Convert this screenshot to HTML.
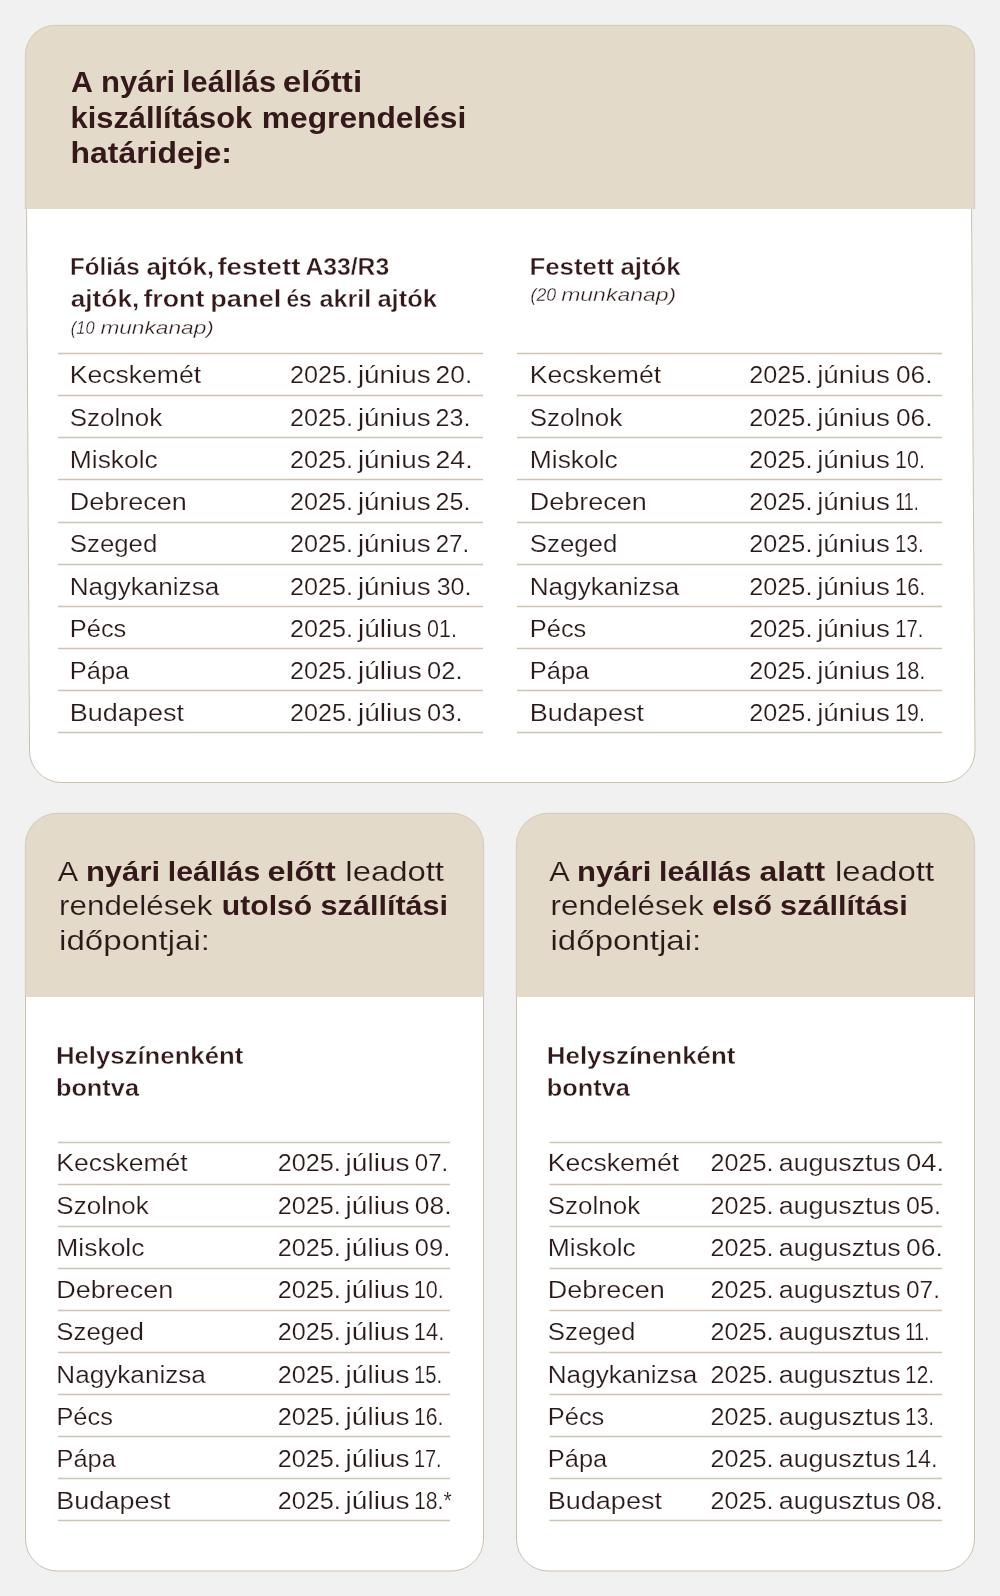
<!DOCTYPE html>
<html lang="hu"><head><meta charset="utf-8"><title>Nyári leállás</title>
<style>
html,body{margin:0;padding:0;background:#f1f1f2;}
body{width:1000px;height:1596px;overflow:hidden;font-family:"Liberation Sans",sans-serif;}
svg{display:block;will-change:transform;}
</style></head><body>
<svg width="1000" height="1596" viewBox="0 0 1000 1596">
<g>
<!-- top card body -->
<path d="M26.5 200 L29.5 750.5 A32 32 0 0 0 61.5 782.5 L943 782.5 A32 32 0 0 0 975 750.5 L971.5 200 Z" fill="#ffffff" stroke="#cbbfae" stroke-width="1"/>
<!-- top card header -->
<path d="M25 209 V55 A30 30 0 0 1 55 25 H945 A30 30 0 0 1 975 55 V209 Z" fill="#e3daca"/><path d="M25.3 209 V55 A30 30 0 0 1 55 25.3 H945 A30 30 0 0 1 974.7 55 V209" fill="none" stroke="#cbbfae" stroke-width="0.6"/>
<!-- bottom cards -->
<path d="M25.5 990 V1539 A32 32 0 0 0 57.5 1571 H451.5 A32 32 0 0 0 483.5 1539 V990 Z" fill="#ffffff" stroke="#cbbfae" stroke-width="1"/>
<path d="M25 997 V845 A32 32 0 0 1 57 813 H452 A32 32 0 0 1 484 845 V997 Z" fill="#e3daca"/><path d="M25.3 997 V845 A32 32 0 0 1 57 813.3 H452 A32 32 0 0 1 483.7 845 V997" fill="none" stroke="#cbbfae" stroke-width="0.6"/>
<path d="M516.5 990 V1539 A32 32 0 0 0 548.5 1571 H942.5 A32 32 0 0 0 974.5 1539 V990 Z" fill="#ffffff" stroke="#cbbfae" stroke-width="1"/>
<path d="M516 997 V845 A32 32 0 0 1 548 813 H943 A32 32 0 0 1 975 845 V997 Z" fill="#e3daca"/><path d="M516.3 997 V845 A32 32 0 0 1 548 813.3 H943 A32 32 0 0 1 974.7 845 V997" fill="none" stroke="#cbbfae" stroke-width="0.6"/>
<path d="M58 353.5H483M58 395.5H483M58 437.5H483M58 479.5H483M58 522.5H483M58 564.5H483M58 606.5H483M58 648.5H483M58 690.5H483M58 732.5H483M517 353.5H942M517 395.5H942M517 437.5H942M517 479.5H942M517 522.5H942M517 564.5H942M517 606.5H942M517 648.5H942M517 690.5H942M517 732.5H942M58 1142.5H450M58 1184.5H450M58 1226.5H450M58 1268.5H450M58 1310.5H450M58 1352.5H450M58 1394.5H450M58 1436.5H450M58 1478.5H450M58 1520.5H450M549.5 1142.5H942M549.5 1184.5H942M549.5 1226.5H942M549.5 1268.5H942M549.5 1310.5H942M549.5 1352.5H942M549.5 1394.5H942M549.5 1436.5H942M549.5 1478.5H942M549.5 1520.5H942" stroke="#cdc4b3" stroke-width="1.7" fill="none"/>
</g>
<g font-family="Liberation Sans" fill="#34181a">
<text x="71.00" y="92.00" font-size="29" textLength="21.94" lengthAdjust="spacingAndGlyphs" font-weight="bold">A</text>
<text x="101.13" y="92.00" font-size="29" textLength="74.12" lengthAdjust="spacingAndGlyphs" font-weight="bold">nyári</text>
<text x="182.08" y="92.00" font-size="29" textLength="93.91" lengthAdjust="spacingAndGlyphs" font-weight="bold">leállás</text>
<text x="282.80" y="92.00" font-size="29" textLength="79.35" lengthAdjust="spacingAndGlyphs" font-weight="bold">előtti</text>
<text x="70.58" y="128.00" font-size="29" textLength="181.55" lengthAdjust="spacingAndGlyphs" font-weight="bold">kiszállítások</text>
<text x="261.86" y="128.00" font-size="29" textLength="204.44" lengthAdjust="spacingAndGlyphs" font-weight="bold">megrendelési</text>
<text x="70.50" y="163.00" font-size="29" textLength="161.48" lengthAdjust="spacingAndGlyphs" font-weight="bold">határideje:</text>
<text x="69.97" y="274.80" font-size="23.5" textLength="69.70" lengthAdjust="spacingAndGlyphs" font-weight="bold" stroke="#ffffff" stroke-width="0.35">Fóliás</text>
<text x="146.40" y="274.80" font-size="23.5" textLength="67.89" lengthAdjust="spacingAndGlyphs" font-weight="bold" stroke="#ffffff" stroke-width="0.35">ajtók,</text>
<text x="217.40" y="274.80" font-size="23.5" textLength="82.99" lengthAdjust="spacingAndGlyphs" font-weight="bold" stroke="#ffffff" stroke-width="0.35">festett</text>
<text x="305.40" y="274.80" font-size="23.5" textLength="83.77" lengthAdjust="spacingAndGlyphs" font-weight="bold" stroke="#ffffff" stroke-width="0.35">A33/R3</text>
<text x="70.70" y="306.50" font-size="23.5" textLength="68.61" lengthAdjust="spacingAndGlyphs" font-weight="bold" stroke="#ffffff" stroke-width="0.35">ajtók,</text>
<text x="143.40" y="306.50" font-size="23.5" textLength="61.00" lengthAdjust="spacingAndGlyphs" font-weight="bold" stroke="#ffffff" stroke-width="0.35">front</text>
<text x="210.24" y="306.50" font-size="23.5" textLength="71.13" lengthAdjust="spacingAndGlyphs" font-weight="bold" stroke="#ffffff" stroke-width="0.35">panel</text>
<text x="286.40" y="306.50" font-size="23.5" textLength="25.27" lengthAdjust="spacingAndGlyphs" font-weight="bold" stroke="#ffffff" stroke-width="0.35">és</text>
<text x="319.40" y="306.50" font-size="23.5" textLength="51.84" lengthAdjust="spacingAndGlyphs" font-weight="bold" stroke="#ffffff" stroke-width="0.35">akril</text>
<text x="377.40" y="306.50" font-size="23.5" textLength="59.69" lengthAdjust="spacingAndGlyphs" font-weight="bold" stroke="#ffffff" stroke-width="0.35">ajtók</text>
<text x="70.80" y="334.30" font-size="18.5" textLength="23.77" lengthAdjust="spacingAndGlyphs" font-style="italic" fill="#2b1919" stroke="#ffffff" stroke-width="0.3">(10</text>
<text x="100.40" y="334.30" font-size="18.5" textLength="113.40" lengthAdjust="spacingAndGlyphs" font-style="italic" fill="#2b1919" stroke="#ffffff" stroke-width="0.3">munkanap)</text>
<text x="529.40" y="275.20" font-size="23.5" textLength="84.81" lengthAdjust="spacingAndGlyphs" font-weight="bold" stroke="#ffffff" stroke-width="0.35">Festett</text>
<text x="620.40" y="275.20" font-size="23.5" textLength="60.18" lengthAdjust="spacingAndGlyphs" font-weight="bold" stroke="#ffffff" stroke-width="0.35">ajtók</text>
<text x="530.50" y="301.30" font-size="18.5" textLength="25.62" lengthAdjust="spacingAndGlyphs" font-style="italic" fill="#2b1919" stroke="#ffffff" stroke-width="0.3">(20</text>
<text x="561.20" y="301.30" font-size="18.5" textLength="115.00" lengthAdjust="spacingAndGlyphs" font-style="italic" fill="#2b1919" stroke="#ffffff" stroke-width="0.3">munkanap)</text>
<text x="69.76" y="383.40" font-size="23.3" textLength="131.34" lengthAdjust="spacingAndGlyphs" fill="#2b1919" stroke="#ffffff" stroke-width="0.2">Kecskemét</text>
<text x="290.02" y="383.40" font-size="23.3" textLength="63.08" lengthAdjust="spacingAndGlyphs" fill="#2b1919" stroke="#ffffff" stroke-width="0.2">2025.</text>
<text x="357.90" y="383.40" font-size="23.3" textLength="72.78" lengthAdjust="spacingAndGlyphs" fill="#2b1919" stroke="#ffffff" stroke-width="0.2">június</text>
<text x="435.57" y="383.40" font-size="23.3" textLength="36.70" lengthAdjust="spacingAndGlyphs" fill="#2b1919" stroke="#ffffff" stroke-width="0.2">20.</text>
<text x="69.78" y="425.64" font-size="23.3" textLength="92.42" lengthAdjust="spacingAndGlyphs" fill="#2b1919" stroke="#ffffff" stroke-width="0.2">Szolnok</text>
<text x="290.02" y="425.64" font-size="23.3" textLength="63.08" lengthAdjust="spacingAndGlyphs" fill="#2b1919" stroke="#ffffff" stroke-width="0.2">2025.</text>
<text x="357.90" y="425.64" font-size="23.3" textLength="72.78" lengthAdjust="spacingAndGlyphs" fill="#2b1919" stroke="#ffffff" stroke-width="0.2">június</text>
<text x="435.62" y="425.64" font-size="23.3" textLength="34.86" lengthAdjust="spacingAndGlyphs" fill="#2b1919" stroke="#ffffff" stroke-width="0.2">23.</text>
<text x="69.77" y="467.88" font-size="23.3" textLength="88.04" lengthAdjust="spacingAndGlyphs" fill="#2b1919" stroke="#ffffff" stroke-width="0.2">Miskolc</text>
<text x="290.02" y="467.88" font-size="23.3" textLength="63.08" lengthAdjust="spacingAndGlyphs" fill="#2b1919" stroke="#ffffff" stroke-width="0.2">2025.</text>
<text x="357.90" y="467.88" font-size="23.3" textLength="72.78" lengthAdjust="spacingAndGlyphs" fill="#2b1919" stroke="#ffffff" stroke-width="0.2">június</text>
<text x="435.56" y="467.88" font-size="23.3" textLength="37.03" lengthAdjust="spacingAndGlyphs" fill="#2b1919" stroke="#ffffff" stroke-width="0.2">24.</text>
<text x="69.74" y="510.12" font-size="23.3" textLength="116.97" lengthAdjust="spacingAndGlyphs" fill="#2b1919" stroke="#ffffff" stroke-width="0.2">Debrecen</text>
<text x="290.02" y="510.12" font-size="23.3" textLength="63.08" lengthAdjust="spacingAndGlyphs" fill="#2b1919" stroke="#ffffff" stroke-width="0.2">2025.</text>
<text x="357.90" y="510.12" font-size="23.3" textLength="72.78" lengthAdjust="spacingAndGlyphs" fill="#2b1919" stroke="#ffffff" stroke-width="0.2">június</text>
<text x="435.62" y="510.12" font-size="23.3" textLength="34.86" lengthAdjust="spacingAndGlyphs" fill="#2b1919" stroke="#ffffff" stroke-width="0.2">25.</text>
<text x="69.79" y="552.36" font-size="23.3" textLength="87.47" lengthAdjust="spacingAndGlyphs" fill="#2b1919" stroke="#ffffff" stroke-width="0.2">Szeged</text>
<text x="290.02" y="552.36" font-size="23.3" textLength="63.08" lengthAdjust="spacingAndGlyphs" fill="#2b1919" stroke="#ffffff" stroke-width="0.2">2025.</text>
<text x="357.90" y="552.36" font-size="23.3" textLength="72.78" lengthAdjust="spacingAndGlyphs" fill="#2b1919" stroke="#ffffff" stroke-width="0.2">június</text>
<text x="435.67" y="552.36" font-size="23.3" textLength="33.45" lengthAdjust="spacingAndGlyphs" fill="#2b1919" stroke="#ffffff" stroke-width="0.2">27.</text>
<text x="69.78" y="594.60" font-size="23.3" textLength="149.47" lengthAdjust="spacingAndGlyphs" fill="#2b1919" stroke="#ffffff" stroke-width="0.2">Nagykanizsa</text>
<text x="290.02" y="594.60" font-size="23.3" textLength="63.08" lengthAdjust="spacingAndGlyphs" fill="#2b1919" stroke="#ffffff" stroke-width="0.2">2025.</text>
<text x="357.90" y="594.60" font-size="23.3" textLength="72.78" lengthAdjust="spacingAndGlyphs" fill="#2b1919" stroke="#ffffff" stroke-width="0.2">június</text>
<text x="436.70" y="594.60" font-size="23.3" textLength="34.78" lengthAdjust="spacingAndGlyphs" fill="#2b1919" stroke="#ffffff" stroke-width="0.2">30.</text>
<text x="69.81" y="636.84" font-size="23.3" textLength="56.50" lengthAdjust="spacingAndGlyphs" fill="#2b1919" stroke="#ffffff" stroke-width="0.2">Pécs</text>
<text x="290.02" y="636.84" font-size="23.3" textLength="63.08" lengthAdjust="spacingAndGlyphs" fill="#2b1919" stroke="#ffffff" stroke-width="0.2">2025.</text>
<text x="357.91" y="636.84" font-size="23.3" textLength="63.98" lengthAdjust="spacingAndGlyphs" fill="#2b1919" stroke="#ffffff" stroke-width="0.2">július</text>
<text x="427.10" y="636.84" font-size="23.3" textLength="29.86" lengthAdjust="spacingAndGlyphs" fill="#2b1919" stroke="#ffffff" stroke-width="0.2">01.</text>
<text x="69.81" y="679.08" font-size="23.3" textLength="59.45" lengthAdjust="spacingAndGlyphs" fill="#2b1919" stroke="#ffffff" stroke-width="0.2">Pápa</text>
<text x="290.02" y="679.08" font-size="23.3" textLength="63.08" lengthAdjust="spacingAndGlyphs" fill="#2b1919" stroke="#ffffff" stroke-width="0.2">2025.</text>
<text x="357.91" y="679.08" font-size="23.3" textLength="63.98" lengthAdjust="spacingAndGlyphs" fill="#2b1919" stroke="#ffffff" stroke-width="0.2">július</text>
<text x="427.10" y="679.08" font-size="23.3" textLength="35.41" lengthAdjust="spacingAndGlyphs" fill="#2b1919" stroke="#ffffff" stroke-width="0.2">02.</text>
<text x="69.74" y="721.32" font-size="23.3" textLength="114.25" lengthAdjust="spacingAndGlyphs" fill="#2b1919" stroke="#ffffff" stroke-width="0.2">Budapest</text>
<text x="290.02" y="721.32" font-size="23.3" textLength="63.08" lengthAdjust="spacingAndGlyphs" fill="#2b1919" stroke="#ffffff" stroke-width="0.2">2025.</text>
<text x="357.91" y="721.32" font-size="23.3" textLength="63.98" lengthAdjust="spacingAndGlyphs" fill="#2b1919" stroke="#ffffff" stroke-width="0.2">július</text>
<text x="427.10" y="721.32" font-size="23.3" textLength="35.41" lengthAdjust="spacingAndGlyphs" fill="#2b1919" stroke="#ffffff" stroke-width="0.2">03.</text>
<text x="529.76" y="383.40" font-size="23.3" textLength="131.34" lengthAdjust="spacingAndGlyphs" fill="#2b1919" stroke="#ffffff" stroke-width="0.2">Kecskemét</text>
<text x="749.32" y="383.40" font-size="23.3" textLength="63.08" lengthAdjust="spacingAndGlyphs" fill="#2b1919" stroke="#ffffff" stroke-width="0.2">2025.</text>
<text x="817.20" y="383.40" font-size="23.3" textLength="72.78" lengthAdjust="spacingAndGlyphs" fill="#2b1919" stroke="#ffffff" stroke-width="0.2">június</text>
<text x="896.00" y="383.40" font-size="23.3" textLength="36.56" lengthAdjust="spacingAndGlyphs" fill="#2b1919" stroke="#ffffff" stroke-width="0.2">06.</text>
<text x="529.78" y="425.64" font-size="23.3" textLength="92.42" lengthAdjust="spacingAndGlyphs" fill="#2b1919" stroke="#ffffff" stroke-width="0.2">Szolnok</text>
<text x="749.32" y="425.64" font-size="23.3" textLength="63.08" lengthAdjust="spacingAndGlyphs" fill="#2b1919" stroke="#ffffff" stroke-width="0.2">2025.</text>
<text x="817.20" y="425.64" font-size="23.3" textLength="72.78" lengthAdjust="spacingAndGlyphs" fill="#2b1919" stroke="#ffffff" stroke-width="0.2">június</text>
<text x="896.00" y="425.64" font-size="23.3" textLength="36.56" lengthAdjust="spacingAndGlyphs" fill="#2b1919" stroke="#ffffff" stroke-width="0.2">06.</text>
<text x="529.77" y="467.88" font-size="23.3" textLength="88.04" lengthAdjust="spacingAndGlyphs" fill="#2b1919" stroke="#ffffff" stroke-width="0.2">Miskolc</text>
<text x="749.32" y="467.88" font-size="23.3" textLength="63.08" lengthAdjust="spacingAndGlyphs" fill="#2b1919" stroke="#ffffff" stroke-width="0.2">2025.</text>
<text x="817.20" y="467.88" font-size="23.3" textLength="72.78" lengthAdjust="spacingAndGlyphs" fill="#2b1919" stroke="#ffffff" stroke-width="0.2">június</text>
<text x="895.08" y="467.88" font-size="23.3" textLength="29.88" lengthAdjust="spacingAndGlyphs" fill="#2b1919" stroke="#ffffff" stroke-width="0.2">10.</text>
<text x="529.74" y="510.12" font-size="23.3" textLength="116.97" lengthAdjust="spacingAndGlyphs" fill="#2b1919" stroke="#ffffff" stroke-width="0.2">Debrecen</text>
<text x="749.32" y="510.12" font-size="23.3" textLength="63.08" lengthAdjust="spacingAndGlyphs" fill="#2b1919" stroke="#ffffff" stroke-width="0.2">2025.</text>
<text x="817.20" y="510.12" font-size="23.3" textLength="72.78" lengthAdjust="spacingAndGlyphs" fill="#2b1919" stroke="#ffffff" stroke-width="0.2">június</text>
<text x="895.23" y="510.12" font-size="23.3" textLength="23.60" lengthAdjust="spacingAndGlyphs" fill="#2b1919" stroke="#ffffff" stroke-width="0.2">11.</text>
<text x="529.79" y="552.36" font-size="23.3" textLength="87.47" lengthAdjust="spacingAndGlyphs" fill="#2b1919" stroke="#ffffff" stroke-width="0.2">Szeged</text>
<text x="749.32" y="552.36" font-size="23.3" textLength="63.08" lengthAdjust="spacingAndGlyphs" fill="#2b1919" stroke="#ffffff" stroke-width="0.2">2025.</text>
<text x="817.20" y="552.36" font-size="23.3" textLength="72.78" lengthAdjust="spacingAndGlyphs" fill="#2b1919" stroke="#ffffff" stroke-width="0.2">június</text>
<text x="895.12" y="552.36" font-size="23.3" textLength="28.47" lengthAdjust="spacingAndGlyphs" fill="#2b1919" stroke="#ffffff" stroke-width="0.2">13.</text>
<text x="529.78" y="594.60" font-size="23.3" textLength="149.47" lengthAdjust="spacingAndGlyphs" fill="#2b1919" stroke="#ffffff" stroke-width="0.2">Nagykanizsa</text>
<text x="749.32" y="594.60" font-size="23.3" textLength="63.08" lengthAdjust="spacingAndGlyphs" fill="#2b1919" stroke="#ffffff" stroke-width="0.2">2025.</text>
<text x="817.20" y="594.60" font-size="23.3" textLength="72.78" lengthAdjust="spacingAndGlyphs" fill="#2b1919" stroke="#ffffff" stroke-width="0.2">június</text>
<text x="895.06" y="594.60" font-size="23.3" textLength="30.31" lengthAdjust="spacingAndGlyphs" fill="#2b1919" stroke="#ffffff" stroke-width="0.2">16.</text>
<text x="529.81" y="636.84" font-size="23.3" textLength="56.50" lengthAdjust="spacingAndGlyphs" fill="#2b1919" stroke="#ffffff" stroke-width="0.2">Pécs</text>
<text x="749.32" y="636.84" font-size="23.3" textLength="63.08" lengthAdjust="spacingAndGlyphs" fill="#2b1919" stroke="#ffffff" stroke-width="0.2">2025.</text>
<text x="817.20" y="636.84" font-size="23.3" textLength="72.78" lengthAdjust="spacingAndGlyphs" fill="#2b1919" stroke="#ffffff" stroke-width="0.2">június</text>
<text x="895.13" y="636.84" font-size="23.3" textLength="28.15" lengthAdjust="spacingAndGlyphs" fill="#2b1919" stroke="#ffffff" stroke-width="0.2">17.</text>
<text x="529.81" y="679.08" font-size="23.3" textLength="59.45" lengthAdjust="spacingAndGlyphs" fill="#2b1919" stroke="#ffffff" stroke-width="0.2">Pápa</text>
<text x="749.32" y="679.08" font-size="23.3" textLength="63.08" lengthAdjust="spacingAndGlyphs" fill="#2b1919" stroke="#ffffff" stroke-width="0.2">2025.</text>
<text x="817.20" y="679.08" font-size="23.3" textLength="72.78" lengthAdjust="spacingAndGlyphs" fill="#2b1919" stroke="#ffffff" stroke-width="0.2">június</text>
<text x="895.06" y="679.08" font-size="23.3" textLength="30.31" lengthAdjust="spacingAndGlyphs" fill="#2b1919" stroke="#ffffff" stroke-width="0.2">18.</text>
<text x="529.74" y="721.32" font-size="23.3" textLength="114.25" lengthAdjust="spacingAndGlyphs" fill="#2b1919" stroke="#ffffff" stroke-width="0.2">Budapest</text>
<text x="749.32" y="721.32" font-size="23.3" textLength="63.08" lengthAdjust="spacingAndGlyphs" fill="#2b1919" stroke="#ffffff" stroke-width="0.2">2025.</text>
<text x="817.20" y="721.32" font-size="23.3" textLength="72.78" lengthAdjust="spacingAndGlyphs" fill="#2b1919" stroke="#ffffff" stroke-width="0.2">június</text>
<text x="895.08" y="721.32" font-size="23.3" textLength="29.77" lengthAdjust="spacingAndGlyphs" fill="#2b1919" stroke="#ffffff" stroke-width="0.2">19.</text>
<text x="57.80" y="880.80" font-size="28.5" textLength="20.41" lengthAdjust="spacingAndGlyphs" fill="#2b1919" stroke="#e3daca" stroke-width="0.15">A</text>
<text x="85.91" y="880.80" font-size="28.5" textLength="74.18" lengthAdjust="spacingAndGlyphs" font-weight="bold">nyári</text>
<text x="167.89" y="880.80" font-size="28.5" textLength="92.31" lengthAdjust="spacingAndGlyphs" font-weight="bold">leállás</text>
<text x="267.57" y="880.80" font-size="28.5" textLength="68.16" lengthAdjust="spacingAndGlyphs" font-weight="bold">előtt</text>
<text x="345.35" y="880.80" font-size="28.5" textLength="98.66" lengthAdjust="spacingAndGlyphs" fill="#2b1919" stroke="#e3daca" stroke-width="0.15">leadott</text>
<text x="59.10" y="915.40" font-size="28.5" textLength="153.38" lengthAdjust="spacingAndGlyphs" fill="#2b1919" stroke="#e3daca" stroke-width="0.15">rendelések</text>
<text x="221.89" y="915.40" font-size="28.5" textLength="90.34" lengthAdjust="spacingAndGlyphs" font-weight="bold">utolsó</text>
<text x="320.63" y="915.40" font-size="28.5" textLength="127.43" lengthAdjust="spacingAndGlyphs" font-weight="bold">szállítási</text>
<text x="59.04" y="950.30" font-size="28.5" textLength="150.99" lengthAdjust="spacingAndGlyphs" fill="#2b1919" stroke="#e3daca" stroke-width="0.15">időpontjai:</text>
<text x="55.90" y="1064.10" font-size="23.5" textLength="187.40" lengthAdjust="spacingAndGlyphs" font-weight="bold" stroke="#ffffff" stroke-width="0.35">Helyszínenként</text>
<text x="55.92" y="1096.00" font-size="23.5" textLength="83.08" lengthAdjust="spacingAndGlyphs" font-weight="bold" stroke="#ffffff" stroke-width="0.35">bontva</text>
<text x="549.30" y="880.80" font-size="28.5" textLength="20.41" lengthAdjust="spacingAndGlyphs" fill="#2b1919" stroke="#e3daca" stroke-width="0.15">A</text>
<text x="577.11" y="880.80" font-size="28.5" textLength="74.18" lengthAdjust="spacingAndGlyphs" font-weight="bold">nyári</text>
<text x="659.09" y="880.80" font-size="28.5" textLength="92.31" lengthAdjust="spacingAndGlyphs" font-weight="bold">leállás</text>
<text x="759.50" y="880.80" font-size="28.5" textLength="65.63" lengthAdjust="spacingAndGlyphs" font-weight="bold">alatt</text>
<text x="835.04" y="880.80" font-size="28.5" textLength="99.06" lengthAdjust="spacingAndGlyphs" fill="#2b1919" stroke="#e3daca" stroke-width="0.15">leadott</text>
<text x="550.60" y="915.40" font-size="28.5" textLength="153.07" lengthAdjust="spacingAndGlyphs" fill="#2b1919" stroke="#e3daca" stroke-width="0.15">rendelések</text>
<text x="712.15" y="915.40" font-size="28.5" textLength="59.78" lengthAdjust="spacingAndGlyphs" font-weight="bold">első</text>
<text x="780.12" y="915.40" font-size="28.5" textLength="127.74" lengthAdjust="spacingAndGlyphs" font-weight="bold">szállítási</text>
<text x="550.54" y="950.30" font-size="28.5" textLength="150.68" lengthAdjust="spacingAndGlyphs" fill="#2b1919" stroke="#e3daca" stroke-width="0.15">időpontjai:</text>
<text x="546.80" y="1064.10" font-size="23.5" textLength="188.61" lengthAdjust="spacingAndGlyphs" font-weight="bold" stroke="#ffffff" stroke-width="0.35">Helyszínenként</text>
<text x="546.82" y="1096.00" font-size="23.5" textLength="83.08" lengthAdjust="spacingAndGlyphs" font-weight="bold" stroke="#ffffff" stroke-width="0.35">bontva</text>
<text x="56.36" y="1171.30" font-size="23.3" textLength="131.34" lengthAdjust="spacingAndGlyphs" fill="#2b1919" stroke="#ffffff" stroke-width="0.2">Kecskemét</text>
<text x="277.72" y="1171.30" font-size="23.3" textLength="63.08" lengthAdjust="spacingAndGlyphs" fill="#2b1919" stroke="#ffffff" stroke-width="0.2">2025.</text>
<text x="345.61" y="1171.30" font-size="23.3" textLength="63.98" lengthAdjust="spacingAndGlyphs" fill="#2b1919" stroke="#ffffff" stroke-width="0.2">július</text>
<text x="414.80" y="1171.30" font-size="23.3" textLength="33.42" lengthAdjust="spacingAndGlyphs" fill="#2b1919" stroke="#ffffff" stroke-width="0.2">07.</text>
<text x="56.38" y="1213.54" font-size="23.3" textLength="92.42" lengthAdjust="spacingAndGlyphs" fill="#2b1919" stroke="#ffffff" stroke-width="0.2">Szolnok</text>
<text x="277.72" y="1213.54" font-size="23.3" textLength="63.08" lengthAdjust="spacingAndGlyphs" fill="#2b1919" stroke="#ffffff" stroke-width="0.2">2025.</text>
<text x="345.61" y="1213.54" font-size="23.3" textLength="63.98" lengthAdjust="spacingAndGlyphs" fill="#2b1919" stroke="#ffffff" stroke-width="0.2">július</text>
<text x="414.80" y="1213.54" font-size="23.3" textLength="36.77" lengthAdjust="spacingAndGlyphs" fill="#2b1919" stroke="#ffffff" stroke-width="0.2">08.</text>
<text x="56.37" y="1255.78" font-size="23.3" textLength="88.04" lengthAdjust="spacingAndGlyphs" fill="#2b1919" stroke="#ffffff" stroke-width="0.2">Miskolc</text>
<text x="277.72" y="1255.78" font-size="23.3" textLength="63.08" lengthAdjust="spacingAndGlyphs" fill="#2b1919" stroke="#ffffff" stroke-width="0.2">2025.</text>
<text x="345.61" y="1255.78" font-size="23.3" textLength="63.98" lengthAdjust="spacingAndGlyphs" fill="#2b1919" stroke="#ffffff" stroke-width="0.2">július</text>
<text x="414.80" y="1255.78" font-size="23.3" textLength="35.51" lengthAdjust="spacingAndGlyphs" fill="#2b1919" stroke="#ffffff" stroke-width="0.2">09.</text>
<text x="56.34" y="1298.02" font-size="23.3" textLength="116.97" lengthAdjust="spacingAndGlyphs" fill="#2b1919" stroke="#ffffff" stroke-width="0.2">Debrecen</text>
<text x="277.72" y="1298.02" font-size="23.3" textLength="63.08" lengthAdjust="spacingAndGlyphs" fill="#2b1919" stroke="#ffffff" stroke-width="0.2">2025.</text>
<text x="345.61" y="1298.02" font-size="23.3" textLength="63.98" lengthAdjust="spacingAndGlyphs" fill="#2b1919" stroke="#ffffff" stroke-width="0.2">július</text>
<text x="413.87" y="1298.02" font-size="23.3" textLength="29.99" lengthAdjust="spacingAndGlyphs" fill="#2b1919" stroke="#ffffff" stroke-width="0.2">10.</text>
<text x="56.39" y="1340.26" font-size="23.3" textLength="87.47" lengthAdjust="spacingAndGlyphs" fill="#2b1919" stroke="#ffffff" stroke-width="0.2">Szeged</text>
<text x="277.72" y="1340.26" font-size="23.3" textLength="63.08" lengthAdjust="spacingAndGlyphs" fill="#2b1919" stroke="#ffffff" stroke-width="0.2">2025.</text>
<text x="345.61" y="1340.26" font-size="23.3" textLength="63.98" lengthAdjust="spacingAndGlyphs" fill="#2b1919" stroke="#ffffff" stroke-width="0.2">július</text>
<text x="413.86" y="1340.26" font-size="23.3" textLength="30.53" lengthAdjust="spacingAndGlyphs" fill="#2b1919" stroke="#ffffff" stroke-width="0.2">14.</text>
<text x="56.38" y="1382.50" font-size="23.3" textLength="149.47" lengthAdjust="spacingAndGlyphs" fill="#2b1919" stroke="#ffffff" stroke-width="0.2">Nagykanizsa</text>
<text x="277.72" y="1382.50" font-size="23.3" textLength="63.08" lengthAdjust="spacingAndGlyphs" fill="#2b1919" stroke="#ffffff" stroke-width="0.2">2025.</text>
<text x="345.61" y="1382.50" font-size="23.3" textLength="63.98" lengthAdjust="spacingAndGlyphs" fill="#2b1919" stroke="#ffffff" stroke-width="0.2">július</text>
<text x="413.93" y="1382.50" font-size="23.3" textLength="28.15" lengthAdjust="spacingAndGlyphs" fill="#2b1919" stroke="#ffffff" stroke-width="0.2">15.</text>
<text x="56.41" y="1424.74" font-size="23.3" textLength="56.50" lengthAdjust="spacingAndGlyphs" fill="#2b1919" stroke="#ffffff" stroke-width="0.2">Pécs</text>
<text x="277.72" y="1424.74" font-size="23.3" textLength="63.08" lengthAdjust="spacingAndGlyphs" fill="#2b1919" stroke="#ffffff" stroke-width="0.2">2025.</text>
<text x="345.61" y="1424.74" font-size="23.3" textLength="63.98" lengthAdjust="spacingAndGlyphs" fill="#2b1919" stroke="#ffffff" stroke-width="0.2">július</text>
<text x="413.89" y="1424.74" font-size="23.3" textLength="29.45" lengthAdjust="spacingAndGlyphs" fill="#2b1919" stroke="#ffffff" stroke-width="0.2">16.</text>
<text x="56.41" y="1466.98" font-size="23.3" textLength="59.45" lengthAdjust="spacingAndGlyphs" fill="#2b1919" stroke="#ffffff" stroke-width="0.2">Pápa</text>
<text x="277.72" y="1466.98" font-size="23.3" textLength="63.08" lengthAdjust="spacingAndGlyphs" fill="#2b1919" stroke="#ffffff" stroke-width="0.2">2025.</text>
<text x="345.61" y="1466.98" font-size="23.3" textLength="63.98" lengthAdjust="spacingAndGlyphs" fill="#2b1919" stroke="#ffffff" stroke-width="0.2">július</text>
<text x="413.95" y="1466.98" font-size="23.3" textLength="27.61" lengthAdjust="spacingAndGlyphs" fill="#2b1919" stroke="#ffffff" stroke-width="0.2">17.</text>
<text x="56.34" y="1509.22" font-size="23.3" textLength="114.25" lengthAdjust="spacingAndGlyphs" fill="#2b1919" stroke="#ffffff" stroke-width="0.2">Budapest</text>
<text x="277.72" y="1509.22" font-size="23.3" textLength="63.08" lengthAdjust="spacingAndGlyphs" fill="#2b1919" stroke="#ffffff" stroke-width="0.2">2025.</text>
<text x="345.61" y="1509.22" font-size="23.3" textLength="63.98" lengthAdjust="spacingAndGlyphs" fill="#2b1919" stroke="#ffffff" stroke-width="0.2">július</text>
<text x="413.89" y="1509.22" font-size="23.3" textLength="37.77" lengthAdjust="spacingAndGlyphs" fill="#2b1919" stroke="#ffffff" stroke-width="0.2">18.*</text>
<text x="547.76" y="1171.30" font-size="23.3" textLength="131.34" lengthAdjust="spacingAndGlyphs" fill="#2b1919" stroke="#ffffff" stroke-width="0.2">Kecskemét</text>
<text x="710.52" y="1171.30" font-size="23.3" textLength="63.08" lengthAdjust="spacingAndGlyphs" fill="#2b1919" stroke="#ffffff" stroke-width="0.2">2025.</text>
<text x="778.80" y="1171.30" font-size="23.3" textLength="121.94" lengthAdjust="spacingAndGlyphs" fill="#2b1919" stroke="#ffffff" stroke-width="0.2">augusztus</text>
<text x="906.00" y="1171.30" font-size="23.3" textLength="38.13" lengthAdjust="spacingAndGlyphs" fill="#2b1919" stroke="#ffffff" stroke-width="0.2">04.</text>
<text x="547.78" y="1213.54" font-size="23.3" textLength="92.42" lengthAdjust="spacingAndGlyphs" fill="#2b1919" stroke="#ffffff" stroke-width="0.2">Szolnok</text>
<text x="710.52" y="1213.54" font-size="23.3" textLength="63.08" lengthAdjust="spacingAndGlyphs" fill="#2b1919" stroke="#ffffff" stroke-width="0.2">2025.</text>
<text x="778.80" y="1213.54" font-size="23.3" textLength="121.94" lengthAdjust="spacingAndGlyphs" fill="#2b1919" stroke="#ffffff" stroke-width="0.2">augusztus</text>
<text x="906.00" y="1213.54" font-size="23.3" textLength="34.89" lengthAdjust="spacingAndGlyphs" fill="#2b1919" stroke="#ffffff" stroke-width="0.2">05.</text>
<text x="547.77" y="1255.78" font-size="23.3" textLength="88.04" lengthAdjust="spacingAndGlyphs" fill="#2b1919" stroke="#ffffff" stroke-width="0.2">Miskolc</text>
<text x="710.52" y="1255.78" font-size="23.3" textLength="63.08" lengthAdjust="spacingAndGlyphs" fill="#2b1919" stroke="#ffffff" stroke-width="0.2">2025.</text>
<text x="778.80" y="1255.78" font-size="23.3" textLength="121.94" lengthAdjust="spacingAndGlyphs" fill="#2b1919" stroke="#ffffff" stroke-width="0.2">augusztus</text>
<text x="906.00" y="1255.78" font-size="23.3" textLength="36.77" lengthAdjust="spacingAndGlyphs" fill="#2b1919" stroke="#ffffff" stroke-width="0.2">06.</text>
<text x="547.74" y="1298.02" font-size="23.3" textLength="116.97" lengthAdjust="spacingAndGlyphs" fill="#2b1919" stroke="#ffffff" stroke-width="0.2">Debrecen</text>
<text x="710.52" y="1298.02" font-size="23.3" textLength="63.08" lengthAdjust="spacingAndGlyphs" fill="#2b1919" stroke="#ffffff" stroke-width="0.2">2025.</text>
<text x="778.80" y="1298.02" font-size="23.3" textLength="121.94" lengthAdjust="spacingAndGlyphs" fill="#2b1919" stroke="#ffffff" stroke-width="0.2">augusztus</text>
<text x="906.00" y="1298.02" font-size="23.3" textLength="34.05" lengthAdjust="spacingAndGlyphs" fill="#2b1919" stroke="#ffffff" stroke-width="0.2">07.</text>
<text x="547.79" y="1340.26" font-size="23.3" textLength="87.47" lengthAdjust="spacingAndGlyphs" fill="#2b1919" stroke="#ffffff" stroke-width="0.2">Szeged</text>
<text x="710.52" y="1340.26" font-size="23.3" textLength="63.08" lengthAdjust="spacingAndGlyphs" fill="#2b1919" stroke="#ffffff" stroke-width="0.2">2025.</text>
<text x="778.80" y="1340.26" font-size="23.3" textLength="121.94" lengthAdjust="spacingAndGlyphs" fill="#2b1919" stroke="#ffffff" stroke-width="0.2">augusztus</text>
<text x="905.22" y="1340.26" font-size="23.3" textLength="24.04" lengthAdjust="spacingAndGlyphs" fill="#2b1919" stroke="#ffffff" stroke-width="0.2">11.</text>
<text x="547.78" y="1382.50" font-size="23.3" textLength="149.47" lengthAdjust="spacingAndGlyphs" fill="#2b1919" stroke="#ffffff" stroke-width="0.2">Nagykanizsa</text>
<text x="710.52" y="1382.50" font-size="23.3" textLength="63.08" lengthAdjust="spacingAndGlyphs" fill="#2b1919" stroke="#ffffff" stroke-width="0.2">2025.</text>
<text x="778.80" y="1382.50" font-size="23.3" textLength="121.94" lengthAdjust="spacingAndGlyphs" fill="#2b1919" stroke="#ffffff" stroke-width="0.2">augusztus</text>
<text x="905.10" y="1382.50" font-size="23.3" textLength="29.02" lengthAdjust="spacingAndGlyphs" fill="#2b1919" stroke="#ffffff" stroke-width="0.2">12.</text>
<text x="547.81" y="1424.74" font-size="23.3" textLength="56.50" lengthAdjust="spacingAndGlyphs" fill="#2b1919" stroke="#ffffff" stroke-width="0.2">Pécs</text>
<text x="710.52" y="1424.74" font-size="23.3" textLength="63.08" lengthAdjust="spacingAndGlyphs" fill="#2b1919" stroke="#ffffff" stroke-width="0.2">2025.</text>
<text x="778.80" y="1424.74" font-size="23.3" textLength="121.94" lengthAdjust="spacingAndGlyphs" fill="#2b1919" stroke="#ffffff" stroke-width="0.2">augusztus</text>
<text x="905.10" y="1424.74" font-size="23.3" textLength="29.02" lengthAdjust="spacingAndGlyphs" fill="#2b1919" stroke="#ffffff" stroke-width="0.2">13.</text>
<text x="547.81" y="1466.98" font-size="23.3" textLength="59.45" lengthAdjust="spacingAndGlyphs" fill="#2b1919" stroke="#ffffff" stroke-width="0.2">Pápa</text>
<text x="710.52" y="1466.98" font-size="23.3" textLength="63.08" lengthAdjust="spacingAndGlyphs" fill="#2b1919" stroke="#ffffff" stroke-width="0.2">2025.</text>
<text x="778.80" y="1466.98" font-size="23.3" textLength="121.94" lengthAdjust="spacingAndGlyphs" fill="#2b1919" stroke="#ffffff" stroke-width="0.2">augusztus</text>
<text x="905.00" y="1466.98" font-size="23.3" textLength="32.37" lengthAdjust="spacingAndGlyphs" fill="#2b1919" stroke="#ffffff" stroke-width="0.2">14.</text>
<text x="547.74" y="1509.22" font-size="23.3" textLength="114.25" lengthAdjust="spacingAndGlyphs" fill="#2b1919" stroke="#ffffff" stroke-width="0.2">Budapest</text>
<text x="710.52" y="1509.22" font-size="23.3" textLength="63.08" lengthAdjust="spacingAndGlyphs" fill="#2b1919" stroke="#ffffff" stroke-width="0.2">2025.</text>
<text x="778.80" y="1509.22" font-size="23.3" textLength="121.94" lengthAdjust="spacingAndGlyphs" fill="#2b1919" stroke="#ffffff" stroke-width="0.2">augusztus</text>
<text x="906.00" y="1509.22" font-size="23.3" textLength="36.77" lengthAdjust="spacingAndGlyphs" fill="#2b1919" stroke="#ffffff" stroke-width="0.2">08.</text>
</g>
</svg>
</body></html>
